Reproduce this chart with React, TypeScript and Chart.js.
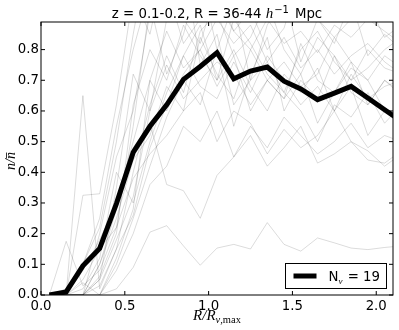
import React, { useEffect, useRef } from "react";
import { Chart, registerables } from "chart.js";

Chart.register(...registerables);

// ---------- data ----------
const xValues = [0.05, 0.15, 0.25, 0.35, 0.45, 0.55, 0.65, 0.75, 0.85, 0.95, 1.05, 1.15, 1.25, 1.35, 1.45, 1.55, 1.65, 1.75, 1.85, 1.95, 2.05, 2.15];

const meanProfile = [0.0, 0.01, 0.095, 0.152, 0.298, 0.465, 0.55, 0.62, 0.703, 0.745, 0.79, 0.705, 0.73, 0.743, 0.697, 0.672, 0.637, 0.658, 0.68, 0.642, 0.604, 0.566];

const void01 = [0, 0, 0.65, 0.02, 0.15, 0.4, 0.62, 0.78, 0.66, 0.86, 0.92, 0.78, 0.84, 0.96, 0.8, 0.72, 0.84, 0.78, 0.7, 0.8, 0.74, 0.72];
const void02 = [0, 0, 0, 0, 0.02, 0.09, 0.205, 0.226, 0.16, 0.097, 0.153, 0.165, 0.15, 0.236, 0.165, 0.143, 0.186, 0.17, 0.153, 0.148, 0.155, 0.16];
const void03 = [0, 0.175, 0.03, 0.08, 0.22, 0.55, 0.95, 0.72, 0.85, 1.05, 0.8, 0.95, 0.7, 0.88, 0.98, 0.76, 0.9, 0.82, 0.96, 0.78, 0.85, 0.8];
const void04 = [0, 0, 0.325, 0.33, 0.62, 0.98, 0.85, 1.1, 0.9, 0.82, 1.0, 0.86, 0.93, 0.8, 0.87, 1.05, 0.9, 0.84, 0.9, 0.95, 0.84, 0.88];
const void05 = [0, 0, 0, 0.1, 0.28, 0.48, 0.56, 0.36, 0.34, 0.25, 0.39, 0.45, 0.52, 0.42, 0.48, 0.55, 0.43, 0.46, 0.5, 0.44, 0.43, 0.47];
const void06 = [0, 0, 0, 0.05, 0.35, 0.72, 0.6, 0.9, 1.1, 0.75, 0.85, 0.62, 0.7, 0.76, 0.66, 0.6, 0.5, 0.62, 0.58, 0.66, 0.56, 0.62];
const void07 = [0, 0, 0.02, 0.12, 0.4, 0.3, 0.5, 0.66, 0.78, 0.88, 0.7, 0.8, 0.68, 0.6, 0.72, 0.66, 0.74, 0.6, 0.68, 0.52, 0.6, 0.58];
const void08 = [0, 0, 0, 0, 0.1, 0.25, 0.42, 0.58, 0.7, 0.62, 0.8, 0.55, 0.72, 0.84, 0.6, 0.7, 0.64, 0.78, 0.66, 0.62, 0.7, 0.65];
const void09 = [0, 0, 0, 0.2, 0.45, 0.6, 0.92, 1.0, 0.82, 0.9, 0.96, 0.86, 0.8, 0.9, 0.82, 0.86, 0.79, 0.88, 0.84, 0.9, 0.86, 0.82];
const void10 = [0, 0, 0.05, 0.15, 0.22, 0.38, 0.46, 0.52, 0.6, 0.66, 0.5, 0.6, 0.56, 0.46, 0.54, 0.48, 0.52, 0.6, 0.5, 0.47, 0.42, 0.46];
const void11 = [0, 0.02, 0.1, 0.25, 0.55, 0.8, 1.0, 0.92, 1.2, 1.0, 0.95, 1.1, 0.98, 1.05, 0.92, 0.96, 1.1, 1.0, 0.98, 0.9, 1.0, 0.95];
const void12 = [0, 0, 0, 0.05, 0.18, 0.32, 0.6, 0.75, 0.64, 0.7, 0.76, 0.72, 0.62, 0.7, 0.64, 0.72, 0.56, 0.66, 0.74, 0.7, 0.6, 0.58];
const void13 = [0, 0, 0, 0, 0.08, 0.2, 0.36, 0.42, 0.55, 0.5, 0.6, 0.45, 0.55, 0.48, 0.58, 0.52, 0.46, 0.5, 0.56, 0.48, 0.52, 0.5];
const void14 = [0, 0, 0.08, 0.18, 0.3, 0.5, 0.7, 0.86, 0.74, 0.8, 0.9, 0.82, 0.88, 0.76, 0.84, 0.74, 0.8, 0.72, 0.78, 0.82, 0.76, 0.72];
const void15 = [0, 0, 0, 0.06, 0.2, 0.62, 0.8, 0.7, 0.88, 0.78, 0.7, 0.9, 0.82, 0.72, 0.66, 0.8, 0.86, 0.76, 0.7, 0.74, 0.8, 0.84];
const void16 = [0, 0, 0.1, 0.22, 0.5, 0.85, 1.15, 0.95, 1.05, 1.2, 1.1, 1.0, 1.15, 1.05, 1.1, 0.98, 1.05, 1.12, 1.0, 1.05, 0.98, 1.02];
const void17 = [0, 0, 0, 0.03, 0.15, 0.26, 0.48, 0.62, 0.78, 0.68, 0.64, 0.76, 0.66, 0.78, 0.7, 0.62, 0.68, 0.6, 0.72, 0.64, 0.68, 0.7];
const void18 = [0, 0, 0, 0.1, 0.25, 0.44, 0.52, 0.68, 0.6, 0.84, 0.72, 0.64, 0.8, 0.7, 0.76, 0.68, 0.72, 0.84, 0.76, 0.7, 0.78, 0.74];
const void19 = [0, 0, 0.04, 0.0, 0.12, 0.28, 0.7, 0.6, 0.72, 0.8, 0.68, 0.78, 0.6, 0.7, 0.64, 0.82, 0.7, 0.66, 0.76, 0.62, 0.7, 0.66];

const voidProfiles = [void01, void02, void03, void04, void05, void06, void07, void08, void09, void10, void11, void12, void13, void14, void15, void16, void17, void18, void19];

const xTicks = [0, 0.5, 1.0, 1.5, 2.0];
const yTicks = [0, 0.1, 0.2, 0.3, 0.4, 0.5, 0.6, 0.7, 0.8];
const X_MAX = 2.1;
const Y_MAX = 0.89;
const voidCount = 19;

// ---------- styling ----------
const SANS = "'DejaVu Sans', sans-serif";
const SERIF = "'Liberation Serif', 'DejaVu Serif', serif";
const TICK_FONT_SIZE = 13.3;

const decorPlugin = {
  id: "decor",
  afterDraw(chart: any) {
    const { ctx, chartArea: a, scales } = chart;
    const xs = scales.x;
    const ys = scales.y;
    ctx.save();

    // inward ticks on all four sides
    ctx.strokeStyle = "#000";
    ctx.lineWidth = 1;
    ctx.beginPath();
    for (const v of xTicks) {
      const p = xs.getPixelForValue(v);
      ctx.moveTo(p, a.bottom);
      ctx.lineTo(p, a.bottom - 4);
      ctx.moveTo(p, a.top);
      ctx.lineTo(p, a.top + 4);
    }
    for (const v of yTicks) {
      const p = ys.getPixelForValue(v);
      ctx.moveTo(a.left, p);
      ctx.lineTo(a.left + 4, p);
      ctx.moveTo(a.right, p);
      ctx.lineTo(a.right - 4, p);
    }
    ctx.stroke();

    // frame
    ctx.strokeRect(a.left, a.top, a.right - a.left, a.bottom - a.top);

    ctx.fillStyle = "#000";
    ctx.textBaseline = "alphabetic";
    ctx.textAlign = "left";

    // ----- title -----
    const tSeg1 = "z = 0.1-0.2, R = 36-44 ";
    const tFont1 = `13.3px ${SANS}`;
    const tFontH = `italic 15px ${SERIF}`;
    const tFontSup = `10px ${SANS}`;
    const tSup = "\u22121";
    const tSeg2 = "Mpc";
    ctx.font = tFont1;
    const w1 = ctx.measureText(tSeg1).width;
    const w3 = ctx.measureText(tSeg2).width;
    ctx.font = tFontH;
    const wH = ctx.measureText("h").width;
    ctx.font = tFontSup;
    const wSup = ctx.measureText(tSup).width;
    const gap = 6;
    const total = w1 + wH + 1 + wSup + gap + w3;
    let tx = (a.left + a.right) / 2 - total / 2;
    const ty = 18;
    ctx.font = tFont1;
    ctx.fillText(tSeg1, tx, ty);
    tx += w1;
    ctx.font = tFontH;
    ctx.fillText("h", tx, ty);
    tx += wH + 1;
    ctx.font = tFontSup;
    ctx.fillText(tSup, tx, ty - 5);
    tx += wSup + gap;
    ctx.font = tFont1;
    ctx.fillText(tSeg2, tx, ty);

    // ----- x-axis label: R/R_{v,max} -----
    const xlMain = "R/R";
    const xlFont = `italic 15px ${SERIF}`;
    const subV = "v";
    const subRest = ",max";
    const subFontI = `italic 10.5px ${SERIF}`;
    const subFont = `10.5px ${SERIF}`;
    ctx.font = xlFont;
    const wm = ctx.measureText(xlMain).width;
    ctx.font = subFontI;
    const wv = ctx.measureText(subV).width;
    ctx.font = subFont;
    const wr = ctx.measureText(subRest).width;
    const xlTotal = wm + wv + wr;
    let lx = (a.left + a.right) / 2 - xlTotal / 2;
    const ly = 320;
    ctx.font = xlFont;
    ctx.fillText(xlMain, lx, ly);
    lx += wm;
    ctx.font = subFontI;
    ctx.fillText(subV, lx, ly + 3);
    lx += wv;
    ctx.font = subFont;
    ctx.fillText(subRest, lx, ly + 3);

    // ----- y-axis label: n / n-bar -----
    ctx.save();
    ctx.translate(15, 161);
    ctx.rotate(-Math.PI / 2);
    ctx.font = `italic 14px ${SERIF}`;
    const yl1 = "n/";
    const yl2 = "n";
    const wy1 = ctx.measureText(yl1).width;
    const wy2 = ctx.measureText(yl2).width;
    const yStart = -(wy1 + wy2) / 2;
    ctx.fillText(yl1, yStart, 0);
    ctx.fillText(yl2, yStart + wy1, 0);
    ctx.beginPath();
    ctx.lineWidth = 0.8;
    ctx.moveTo(yStart + wy1 + 0.5, -8.5);
    ctx.lineTo(yStart + wy1 + wy2 - 0.5, -8.5);
    ctx.stroke();
    ctx.restore();

    // ----- legend -----
    const boxW = 101;
    const boxH = 25;
    const bx = Math.round(a.right - 7 - boxW) + 0.5;
    const by = Math.round(a.bottom - 7 - boxH) + 0.5;
    ctx.fillStyle = "#fff";
    ctx.fillRect(bx, by, boxW, boxH);
    ctx.strokeStyle = "#000";
    ctx.lineWidth = 1;
    ctx.strokeRect(bx, by, boxW, boxH);
    const cy = by + boxH / 2;
    ctx.beginPath();
    ctx.lineWidth = 5;
    ctx.moveTo(bx + 8, cy);
    ctx.lineTo(bx + 31, cy);
    ctx.stroke();
    ctx.fillStyle = "#000";
    ctx.font = `13.3px ${SANS}`;
    let gx = bx + 43;
    const gy = cy + 5;
    ctx.fillText("N", gx, gy);
    gx += ctx.measureText("N").width;
    ctx.font = `italic 9px ${SERIF}`;
    ctx.fillText("v", gx, gy + 3);
    gx += ctx.measureText("v").width + 1;
    ctx.font = `13.3px ${SANS}`;
    ctx.fillText(" = " + voidCount, gx, gy);

    ctx.restore();
  },
};

export default function App() {
  const ref = useRef<HTMLCanvasElement>(null);

  useEffect(() => {
    document.body.style.margin = "0";
    const canvas = ref.current;
    if (!canvas) return;

    const meanDataset = {
      label: "mean",
      data: xValues.map((x, i) => ({ x, y: meanProfile[i] })),
      borderColor: "#000",
      borderWidth: 5,
      pointRadius: 0,
      tension: 0,
      clip: 0,
      borderJoinStyle: "miter" as const,
    };
    const voidDatasets = voidProfiles.map((arr, k) => ({
      label: `void ${k + 1}`,
      data: xValues.map((x, i) => ({ x, y: arr[i] })),
      borderColor: "rgba(0,0,0,0.14)",
      borderWidth: 1,
      pointRadius: 0,
      tension: 0,
      clip: 0,
    }));

    const chart = new Chart(canvas, {
      type: "line",
      data: { datasets: [meanDataset, ...voidDatasets] as any },
      options: {
        animation: false,
        responsive: false,
        devicePixelRatio: 1,
        layout: { padding: { left: 0, right: 6, top: 22, bottom: 0 } },
        plugins: {
          legend: { display: false },
          title: { display: false },
          tooltip: { enabled: false },
        },
        scales: {
          x: {
            type: "linear",
            min: 0,
            max: X_MAX,
            grid: { display: false, drawTicks: false },
            border: { display: false },
            ticks: {
              padding: 4,
              color: "#000",
              autoSkip: false,
              maxRotation: 0,
              font: { family: SANS, size: TICK_FONT_SIZE },
              callback: (v: any) => Number(v).toFixed(1),
            },
            afterBuildTicks: (s: any) => {
              s.ticks = xTicks.map((v) => ({ value: v }));
            },
            afterFit: (s: any) => {
              s.height = 35;
            },
          },
          y: {
            type: "linear",
            min: 0,
            max: Y_MAX,
            grid: { display: false, drawTicks: false },
            border: { display: false },
            ticks: {
              padding: 2,
              color: "#000",
              autoSkip: false,
              font: { family: SANS, size: TICK_FONT_SIZE },
              callback: (v: any) => Number(v).toFixed(1),
            },
            afterBuildTicks: (s: any) => {
              s.ticks = yTicks.map((v) => ({ value: v }));
            },
            afterFit: (s: any) => {
              s.width = 41;
            },
          },
        },
      } as any,
      plugins: [decorPlugin],
    });

    return () => chart.destroy();
  }, []);

  return (
    <canvas
      ref={ref}
      width={399}
      height={330}
      style={{ display: "block", width: 399, height: 330 }}
    />
  );
}
